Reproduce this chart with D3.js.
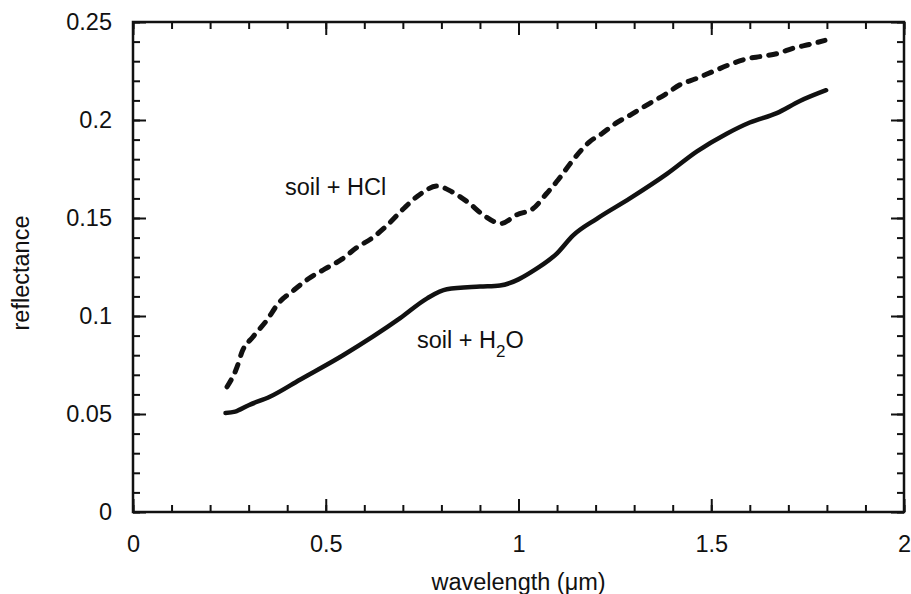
<!DOCTYPE html>
<html>
<head>
<meta charset="utf-8">
<script src="https://cdn.jsdelivr.net/npm/d3@7"></script>
<style>
  body { margin: 0; background: #fff; }
  svg { display: block; font-family: "Liberation Sans", Arial, sans-serif; }
</style>
</head>
<body>
<svg width="911" height="594"></svg>
<script>
"use strict";

// soil + H2O (solid line)
const h2oWavelength = [0.24, 0.265, 0.30, 0.355, 0.433, 0.545, 0.693, 0.763, 0.814, 0.90, 0.952,
  1.048, 1.10, 1.141, 1.203, 1.289, 1.385, 1.463, 1.54, 1.60, 1.67, 1.73, 1.798];
const h2oReflectance = [0.0505, 0.0512, 0.0545, 0.0588, 0.0675, 0.080, 0.0989, 0.109, 0.1136, 0.115, 0.1156,
  0.1243, 0.132, 0.141, 0.1496, 0.160, 0.1725, 0.184, 0.193, 0.1987, 0.2035, 0.2097, 0.2152];

// soil + HCl (dashed line)
const hclWavelength = [0.244, 0.27, 0.283, 0.311, 0.347, 0.377, 0.416, 0.455, 0.498, 0.542, 0.581,
  0.622, 0.661, 0.703, 0.744, 0.789, 0.827, 0.869, 0.911, 0.954, 0.996, 1.038, 1.073, 1.103, 1.134,
  1.16, 1.185, 1.216, 1.25, 1.294, 1.336, 1.38, 1.419, 1.463, 1.505, 1.549, 1.588, 1.631, 1.673,
  1.712, 1.756, 1.795];
const hclReflectance = [0.0639, 0.074, 0.0818, 0.0893, 0.0978, 0.1064, 0.113, 0.119, 0.124, 0.129, 0.135,
  0.140, 0.1466, 0.155, 0.162, 0.1663, 0.1634, 0.158, 0.1512, 0.1472, 0.1517, 0.1548, 0.1625, 0.1695, 0.1777,
  0.184, 0.189, 0.193, 0.198, 0.203, 0.208, 0.213, 0.218, 0.2213, 0.2248, 0.2284, 0.231, 0.2325, 0.234,
  0.2366, 0.2386, 0.2406];

const xTickLabels = [0, 0.5, 1, 1.5, 2];
const yTickLabels = [0, 0.05, 0.1, 0.15, 0.2, 0.25];

const plotLeft = 133, plotRight = 904, plotTop = 22, plotBottom = 512;
const fontSize = "23.5px";

const svg = d3.select("svg");

const xScale = d3.scaleLinear().domain([0, 2]).range([plotLeft, plotRight]);
const yScale = d3.scaleLinear().domain([0, 0.25]).range([plotBottom, plotTop]);

const fmt = d => String(d);
const xMinor = d3.range(0, 2.0001, 0.1).map(v => +v.toFixed(2));
const yMinor = d3.range(0, 0.25001, 0.01).map(v => +v.toFixed(3));

// 축 그리는 헬퍼: domain 선은 지우고 눈금만 남김
function addAxis(axis, tx, ty) {
  const g = svg.append("g").attr("transform", `translate(${tx},${ty})`).call(axis);
  g.select(".domain").remove();
  g.selectAll(".tick line").attr("stroke", "#111").attr("stroke-width", 2);
  g.selectAll("text").style("font-size", fontSize).attr("fill", "#111");
  return g;
}

// minor ticks on all four sides (inward)
addAxis(d3.axisBottom(xScale).tickValues(xMinor).tickSize(-7).tickFormat(""), 0, plotBottom);
addAxis(d3.axisTop(xScale).tickValues(xMinor).tickSize(-7).tickFormat(""), 0, plotTop);
addAxis(d3.axisLeft(yScale).tickValues(yMinor).tickSize(-7).tickFormat(""), plotLeft, 0);
addAxis(d3.axisRight(yScale).tickValues(yMinor).tickSize(-7).tickFormat(""), plotRight, 0);

// major ticks + labels
addAxis(d3.axisBottom(xScale).tickValues(xTickLabels).tickSize(-13).tickPadding(23).tickFormat(fmt), 0, plotBottom);
addAxis(d3.axisTop(xScale).tickValues(xTickLabels).tickSize(-13).tickFormat(""), 0, plotTop);
addAxis(d3.axisLeft(yScale).tickValues(yTickLabels).tickSize(-13).tickPadding(21).tickFormat(fmt), plotLeft, 0);
addAxis(d3.axisRight(yScale).tickValues(yTickLabels).tickSize(-13).tickFormat(""), plotRight, 0);

// frame
svg.append("rect")
  .attr("x", plotLeft).attr("y", plotTop)
  .attr("width", plotRight - plotLeft).attr("height", plotBottom - plotTop)
  .attr("fill", "none").attr("stroke", "#111").attr("stroke-width", 2.5);

const line = d3.line()
  .x(d => xScale(d[0]))
  .y(d => yScale(d[1]))
  .curve(d3.curveMonotoneX);

svg.append("path")
  .attr("d", line(d3.zip(h2oWavelength, h2oReflectance)))
  .attr("fill", "none").attr("stroke", "#111")
  .attr("stroke-width", 4.5).attr("stroke-linecap", "round");

svg.append("path")
  .attr("d", line(d3.zip(hclWavelength, hclReflectance)))
  .attr("fill", "none").attr("stroke", "#111")
  .attr("stroke-width", 5).attr("stroke-linecap", "round")
  .attr("stroke-dasharray", "8,9");

// curve labels
svg.append("text").attr("x", 285).attr("y", 195)
  .style("font-size", fontSize).attr("fill", "#111")
  .text("soil + HCl");

const h2oLabel = svg.append("text").attr("x", 417).attr("y", 348)
  .style("font-size", fontSize).attr("fill", "#111");
h2oLabel.append("tspan").text("soil + H");
h2oLabel.append("tspan").attr("dy", 9).style("font-size", "17px").text("2");
h2oLabel.append("tspan").attr("dy", -9).text("O");

// axis titles
svg.append("text")
  .attr("x", (plotLeft + plotRight) / 2).attr("y", 590)
  .attr("text-anchor", "middle")
  .style("font-size", fontSize).attr("fill", "#111")
  .text("wavelength (\u03bcm)");

svg.append("text")
  .attr("transform", `translate(29,${(plotTop + plotBottom) / 2 + 6}) rotate(-90)`)
  .attr("text-anchor", "middle")
  .style("font-size", fontSize).attr("fill", "#111")
  .text("reflectance");
</script>
</body>
</html>
